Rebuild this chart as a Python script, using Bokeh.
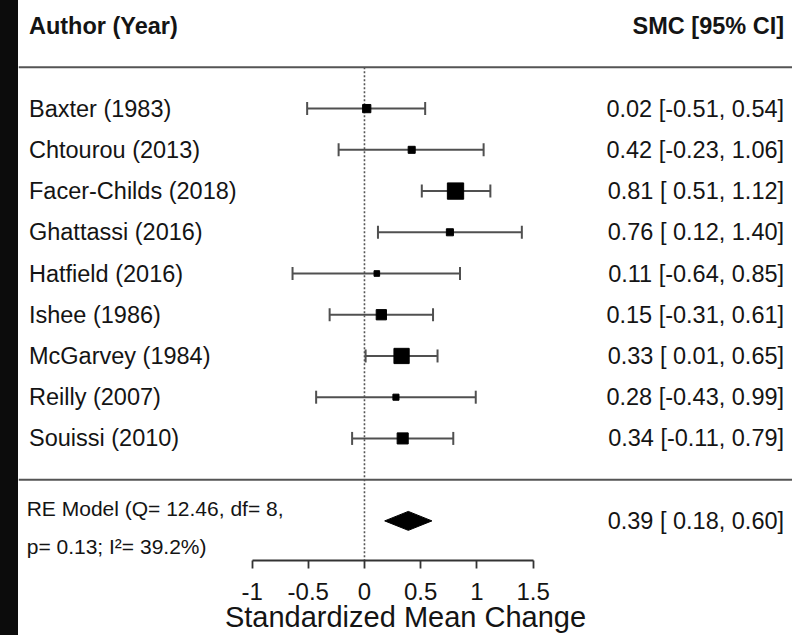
import math
from bokeh.plotting import figure
from bokeh.models import LinearAxis, FixedTicker, Range1d, Span, Div
from bokeh.layouts import row
from bokeh.embed import file_html
from bokeh.resources import INLINE
from bokeh.core.properties import value

# ---------------- data ----------------
studies = ["Baxter (1983)", "Chtourou (2013)", "Facer-Childs (2018)", "Ghattassi (2016)",
           "Hatfield (2016)", "Ishee (1986)", "McGarvey (1984)", "Reilly (2007)", "Souissi (2010)"]
smc = [0.02, 0.42, 0.81, 0.76, 0.11, 0.15, 0.33, 0.28, 0.34]
ci_low = [-0.51, -0.23, 0.51, 0.12, -0.64, -0.31, 0.01, -0.43, -0.11]
ci_high = [0.54, 1.06, 1.12, 1.40, 0.85, 0.61, 0.65, 0.99, 0.79]
weights = [9.5, 8.0, 19.5, 8.0, 6.2, 12.0, 18.2, 6.8, 13.0]   # estimated study weights (%)

re_est, re_low, re_high = 0.39, 0.18, 0.60
re_q, re_df, re_p, re_i2 = 12.46, 8, 0.13, 39.2

tick_values = [-1, -0.5, 0, 0.5, 1, 1.5]
tick_labels = ["-1", "-0.5", "0", "0.5", "1", "1.5"]
header_left = "Author (Year)"
header_right = "SMC [95% CI]"
x_label = "Standardized Mean Change"

# ---------------- layout / style ----------------
FONT = "Liberation Sans"
TXT = "#141414"
LINE = "#505050"
STRIP_W = 18
W, H = 792 - STRIP_W, 635
X_START, X_END = -3.078, 3.808
Y_START, Y_END = -1.961, 11.622
LEFT_X = -2.985
RE_LEFT_X = -3.005
RIGHT_X = 3.733
SMIN, SMAX = 5.6, 16.3
DIAMOND_HALF = 0.23
RE_LINE_UP, RE_LINE_DOWN = 0.30, -0.62

n = len(studies)
rows = [n - i for i in range(n)]
top_row = n + 1
header_row = n + 2
re_row = -1

wmin, wmax = min(weights), max(weights)
sizes = [SMIN + (w - wmin) / (wmax - wmin) * (SMAX - SMIN) for w in weights]
right_txt = [f"{m:.2f} [{lo:5.2f}, {hi:.2f}]" for m, lo, hi in zip(smc, ci_low, ci_high)]
re_txt_right = f"{re_est:.2f} [{re_low:5.2f}, {re_high:.2f}]"
re_txt_1 = f"RE Model (Q= {re_q:.2f}, df= {re_df},"
re_txt_2 = f"p= {re_p:.2f}; I\u00b2= {re_i2:.1f}%)"

p = figure(width=W, height=H, x_range=Range1d(X_START, X_END), y_range=Range1d(Y_START, Y_END),
           output_backend="svg", toolbar_location=None,
           x_axis_location=None, y_axis_location=None,
           min_border_left=0, min_border_right=0, min_border_top=0, min_border_bottom=0)
p.outline_line_color = None
p.xgrid.visible = False
p.ygrid.visible = False
p.background_fill_color = "white"
p.border_fill_color = "white"

ax = LinearAxis(ticker=FixedTicker(ticks=tick_values), bounds=(tick_values[0], tick_values[-1]))
ax.major_label_overrides = {v: s for v, s in zip(tick_values, tick_labels)}
ax.axis_label = x_label
ax.axis_line_color = "#333333"
ax.axis_line_width = 1.8
ax.major_tick_line_color = "#333333"
ax.major_tick_line_width = 1.8
ax.major_tick_in = 0
ax.major_tick_out = 8
ax.minor_tick_line_color = None
ax.major_label_text_font = FONT
ax.major_label_text_font_size = "24px"
ax.major_label_text_color = TXT
ax.major_label_standoff = 14
ax.axis_label_text_font = FONT
ax.axis_label_text_font_size = "29px"
ax.axis_label_text_font_style = "normal"
ax.axis_label_text_color = TXT
ax.axis_label_standoff = -2
p.add_layout(ax, "below")

# separators
for loc in (top_row, 0):
    p.add_layout(Span(location=loc, dimension="width", line_color="#555555", line_width=2))

# reference line at 0
p.segment(x0=[0], y0=[top_row], x1=[0], y1=[Y_START], line_color="#555555",
          line_width=1.6, line_dash="2 2")

# CIs
p.segment(x0=ci_low, y0=rows, x1=ci_high, y1=rows, line_color=LINE, line_width=2)
p.scatter(x=ci_low + ci_high, y=rows + rows, marker="dash", angle=math.pi / 2, size=13,
          line_color=LINE, line_width=2)
p.scatter(x=smc, y=rows, marker="square", size=sizes, fill_color="black", line_color="black")

# summary diamond
p.patch(x=[re_low, re_est, re_high, re_est],
        y=[re_row, re_row + DIAMOND_HALF, re_row, re_row - DIAMOND_HALF],
        fill_color="black", line_color="black")

# texts
common = dict(text_font=value(FONT), text_color=TXT, text_baseline="middle")
p.text(x=[LEFT_X] * n, y=rows, text=studies, text_align="left", text_font_size="23.5px", **common)
p.text(x=[RIGHT_X] * n, y=rows, text=right_txt, text_align="right", text_font_size="23.5px", **common)
p.text(x=[LEFT_X], y=[header_row], text=[header_left], text_align="left", text_font_size="23.5px",
       text_font_style="bold", **common)
p.text(x=[RIGHT_X], y=[header_row], text=[header_right], text_align="right", text_font_size="23.5px",
       text_font_style="bold", **common)
p.text(x=[RIGHT_X], y=[re_row], text=[re_txt_right], text_align="right", text_font_size="23.5px", **common)
p.text(x=[RE_LEFT_X, RE_LEFT_X], y=[re_row + RE_LINE_UP, re_row + RE_LINE_DOWN], text=[re_txt_1, re_txt_2],
       text_align="left", text_font_size="21px", **common)

# dark strip at the left edge of the picture
strip = Div(text="", width=STRIP_W, height=H, margin=(0, 0, 0, 0),
            styles={"background-color": "#0c0c0c"})

layout = row(strip, p, spacing=0)
open("out.html", "w").write(file_html(layout, INLINE))
